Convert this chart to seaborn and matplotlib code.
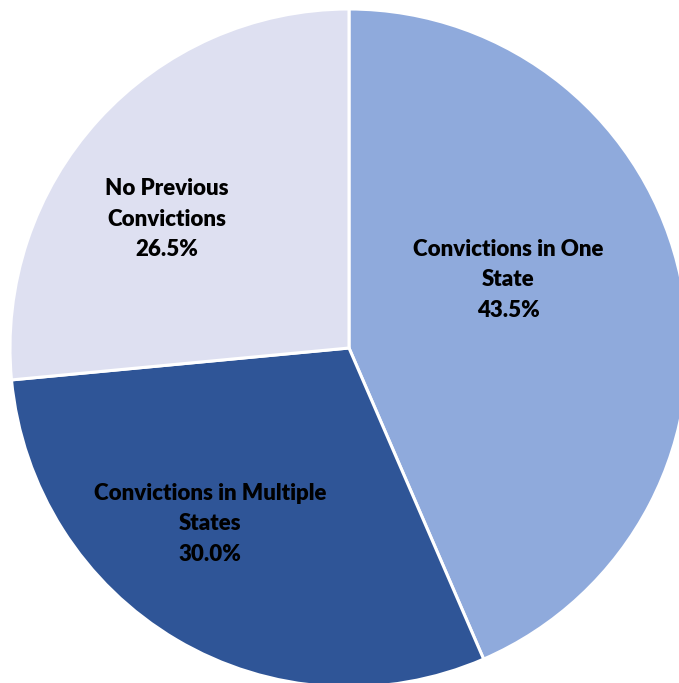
import matplotlib
matplotlib.use("Agg")
import matplotlib.pyplot as plt
import seaborn as sns

categories = ["Convictions in One State", "Convictions in Multiple States", "No Previous Convictions"]
label_lines = ["Convictions in One\nState", "Convictions in Multiple\nStates", "No Previous\nConvictions"]
shares = [43.5, 30.0, 26.5]
colors = ["#8FAADC", "#2F5597", "#DEE0F1"]

sns.set_theme(style="white")
plt.rcParams["font.family"] = ["Lato", "DejaVu Sans"]

W, H = 679, 683
fig = plt.figure(figsize=(W / 100, H / 100), dpi=100)
ax = fig.add_axes([0, 0, 1, 1])

R = 339.0
cx, cy = 349.0, 348.0
ax.pie(shares, colors=colors, startangle=90, counterclock=False, radius=1.0,
       wedgeprops=dict(edgecolor="white", linewidth=2.2), center=(0, 0))

# label anchor points (pixel offsets from pie center, in radius units)
label_pos = [((508 - cx) / R, (cy - 280) / R),
             ((210 - cx) / R, (cy - 524) / R),
             ((167 - cx) / R, (cy - 219) / R)]
for lines, val, (x, y) in zip(label_lines, shares, label_pos):
    ax.text(x, y, f"{lines}\n{val:.1f}%", ha="center", va="center",
            fontsize=16, fontweight="heavy", color="black", linespacing=1.55)

ax.set_xlim(-cx / R, (W - cx) / R)
ax.set_ylim(-(H - cy) / R, cy / R)
ax.set_aspect("auto")
ax.axis("off")

fig.savefig("out.png", dpi=100)
